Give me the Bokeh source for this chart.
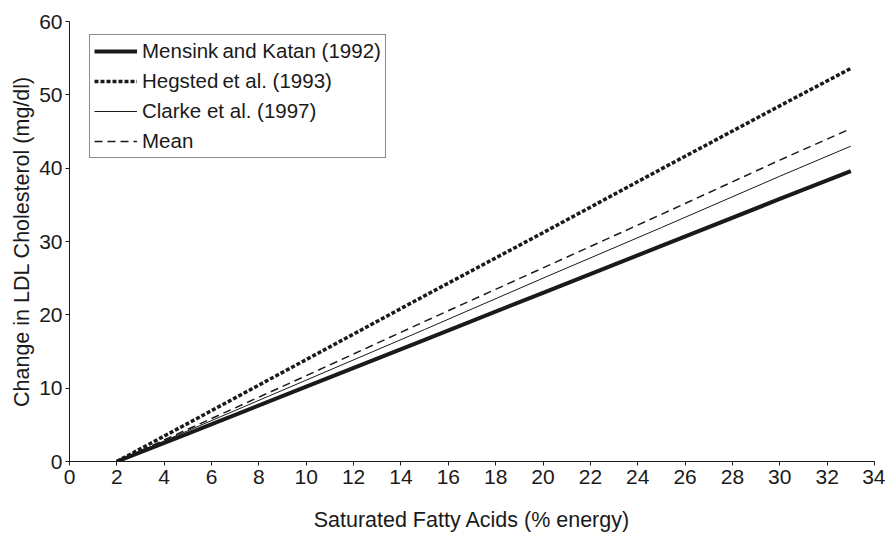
from bokeh.plotting import figure
from bokeh.models import Range1d, Legend, LegendItem, FixedTicker
from bokeh.embed import file_html
from bokeh.resources import INLINE

sfa = [2, 5, 10, 15, 20, 25, 30, 33]
mensink = [0, 3.8, 10.2, 16.6, 23.0, 29.4, 35.8, 39.6]
hegsted = [0, 5.2, 13.9, 22.6, 31.2, 39.9, 48.5, 53.6]
clarke = [0, 4.2, 11.1, 18.0, 25.0, 31.9, 38.9, 43.0]
mean = [0, 4.4, 11.7, 19.1, 26.4, 33.7, 41.1, 45.4]
names = ["Mensink\u2009and Katan (1992)", "Hegsted\u2009et al. (1993)", "Clarke et al. (1997)", "Mean"]
x_ticks = list(range(0, 35, 2))
y_ticks = [0, 10, 20, 30, 40, 50, 60]

FONT = "Liberation Sans"
INK = "#1a1a1a"

p = figure(width=885, height=534, output_backend="svg", toolbar_location=None,
           x_range=Range1d(0, 34), y_range=Range1d(0, 60),
           min_border_left=69, min_border_right=11, min_border_top=21, min_border_bottom=70)
p.outline_line_color = None
p.xgrid.visible = False
p.ygrid.visible = False

r1 = p.line(sfa, mensink, line_color=INK, line_width=4)
r2 = p.line(sfa, hegsted, line_color=INK, line_width=3.5, line_dash="4 2")
r3 = p.line(sfa, clarke, line_color=INK, line_width=1)
r4 = p.line(sfa, mean, line_color=INK, line_width=1.5, line_dash="8 5")

for ax in (p.xaxis[0], p.yaxis[0]):
    ax.axis_line_color = INK
    ax.major_tick_line_color = INK
    ax.minor_tick_line_color = None
    ax.major_tick_out = 4
    ax.major_tick_in = 0
    ax.major_label_text_font = FONT
    ax.major_label_text_font_size = "21px"
    ax.major_label_text_color = INK
    ax.axis_label_text_font = FONT
    ax.axis_label_text_font_size = "21.5px"
    ax.axis_label_text_font_style = "normal"
    ax.axis_label_text_color = INK

p.xaxis.ticker = FixedTicker(ticks=x_ticks)
p.yaxis.ticker = FixedTicker(ticks=y_ticks)
p.xaxis.axis_label = "Saturated Fatty Acids (% energy)"
p.yaxis.axis_label = "Change in LDL Cholesterol (mg/dl)"
p.xaxis.axis_label_standoff = 21
p.yaxis.axis_label_standoff = 2
p.xaxis.major_label_standoff = 4
p.yaxis.major_label_standoff = 3

legend = Legend(items=[LegendItem(label=names[0], renderers=[r1]),
                       LegendItem(label=names[1], renderers=[r2]),
                       LegendItem(label=names[2], renderers=[r3]),
                       LegendItem(label=names[3], renderers=[r4])],
                location=(20, 303))
legend.border_line_color = INK
legend.border_line_width = 1
legend.background_fill_alpha = 1
legend.label_text_font = FONT
legend.label_text_font_size = "20.5px"
legend.label_text_color = INK
legend.glyph_width = 43
legend.glyph_height = 22
legend.label_height = 22
legend.spacing = 6
legend.padding = 4
legend.margin = 0
legend.label_standoff = 5
p.add_layout(legend, "center")

open("out.html", "w").write(file_html(p, INLINE))
